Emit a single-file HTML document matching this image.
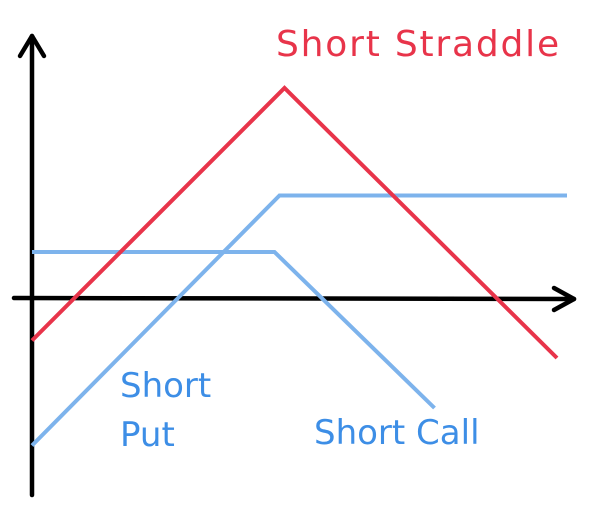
<!DOCTYPE html>
<html>
<head>
<meta charset="utf-8">
<style>
html,body{margin:0;padding:0;background:#fff;}
svg{display:block;}
text{font-family:"DejaVu Sans","Liberation Sans",sans-serif;}
</style>
</head>
<body>
<svg id="chart" width="602" height="508" viewBox="0 0 602 508" xmlns="http://www.w3.org/2000/svg">
  <g id="axes">
    <line x1="32" y1="495" x2="32" y2="36" stroke="#000" stroke-width="4.5" stroke-linecap="round"/>
    <polyline points="20,56 32,36 44,56" fill="none" stroke="#000" stroke-width="4.5" stroke-linecap="round" stroke-linejoin="round"/>
    <line x1="14" y1="298" x2="574" y2="299" stroke="#000" stroke-width="4.5" stroke-linecap="round"/>
    <polyline points="554,288 574,299 554,310" fill="none" stroke="#000" stroke-width="4.5" stroke-linecap="round" stroke-linejoin="round"/>
  </g>
  <g id="series"></g>
  <text x="276" y="56" font-size="36" fill="#e8344a" letter-spacing="1.8">Short Straddle</text>
  <text x="120" y="397" font-size="34" fill="#3d8ee6">Short</text>
  <text x="120" y="446" font-size="34" fill="#3d8ee6">Put</text>
  <text x="314" y="444" font-size="34" fill="#3d8ee6">Short Call</text>
</svg>
<script>
// Payoff data (price units, payoff units)
const straddleX = [0, 10.1, 21];
const straddleY = [-1.7, 8.4, -2.4];
const putX = [0, 9.9, 21.4];
const putY = [-5.9, 4.1, 4.1];
const callX = [0, 9.7, 16.1];
const callY = [1.84, 1.84, -4.4];

function xScale(v){ return 32 + v * 25; }
function yScale(v){ return 298 - v * 25; }

const g = document.getElementById('series');
function drawLine(xs, ys, color, name){
  const pl = document.createElementNS('http://www.w3.org/2000/svg','polyline');
  pl.setAttribute('points', xs.map((x,i)=>xScale(x)+','+yScale(ys[i])).join(' '));
  pl.setAttribute('fill','none');
  pl.setAttribute('stroke',color);
  pl.setAttribute('stroke-width','4');
  pl.setAttribute('stroke-linejoin','miter');
  
  
  g.appendChild(pl);
}
drawLine(callX, callY, '#7db3ec', 'short-call-line');
drawLine(putX, putY, '#7db3ec', 'short-put-line');
drawLine(straddleX, straddleY, '#e8344a', 'short-straddle-line');
</script>
</body>
</html>
